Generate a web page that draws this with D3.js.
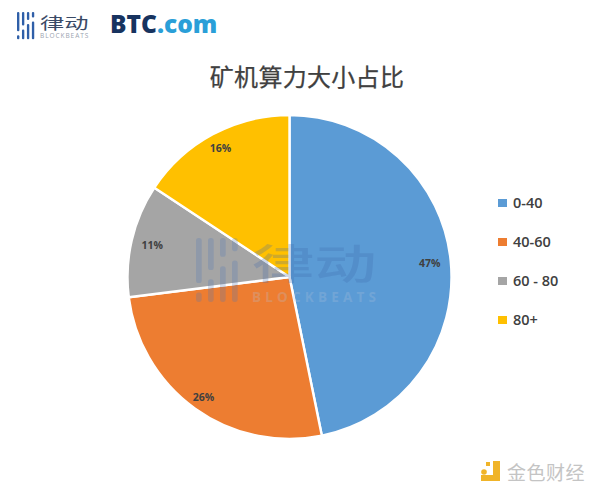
<!DOCTYPE html>
<html><head><meta charset="utf-8">
<script src="https://cdn.jsdelivr.net/npm/d3@7/dist/d3.min.js"></script>
<style>html,body{margin:0;padding:0;background:#fff}svg{display:block}</style>
</head><body><svg id="c" width="590" height="489"></svg>
<script>
const categories=["0-40","40-60","60 - 80","80+"];
const values=[46.8,26.2,11.3,15.7];
const percentLabels=["47%","26%","11%","16%"];
const colors=["#5b9bd5","#ed7d31","#a5a5a5","#ffc000"];
const chartTitle="矿机算力大小占比";

const svg=d3.select("#c");
const cx=289.5,cy=277,R=162;
const sans="'Open Sans','Noto Sans CJK SC',sans-serif";
const cjk="'Noto Sans CJK SC',sans-serif";

function beatsMark(g,sx,sy,color){
  const bars=[[0,0,24],[0,29,5],[8,0,17],[8,22,12],[16,0,10],[16,15,19],[24,0,7],[24,12,22]];
  g.selectAll("rect").data(bars).join("rect")
   .attr("x",d=>d[0]*sx).attr("y",d=>d[1]*sy).attr("width",3.8*sx).attr("height",d=>d[2]*sy)
   .attr("rx",1.7*sx).attr("fill",color);
}

// title
svg.append("text").attr("x",307).attr("y",85.5).attr("text-anchor","middle")
  .attr("font-family",cjk).attr("font-size",24).attr("font-weight",400).attr("fill","#404040")
  .attr("stroke","#404040").attr("stroke-width",.25)
  .attr("letter-spacing",.3).text(chartTitle);

// pie
const pie=d3.pie().value(d=>d).sort(null);
const arc=d3.arc().innerRadius(0).outerRadius(R);
const arcs=pie(values);
const g=svg.append("g").attr("transform",`translate(${cx},${cy})`);
g.selectAll("path").data(arcs).join("path").attr("d",arc)
  .attr("fill",(d,i)=>colors[i]).attr("stroke","#fff").attr("stroke-width",2.4).attr("stroke-linejoin","round");

// percent labels
const labelR=[.87,.91,.87,.9];
g.selectAll("text").data(arcs).join("text")
  .attr("transform",(d,i)=>{const a=(d.startAngle+d.endAngle)/2,r=R*labelR[i];return `translate(${r*Math.sin(a)},${-r*Math.cos(a)})`})
  .attr("text-anchor","middle").attr("dy","0.36em")
  .attr("font-family",sans).attr("font-size",10.5).attr("font-weight",700).attr("fill","#404040")
  .text((d,i)=>percentLabels[i]);

// legend
const ly=d3.scalePoint().domain(categories).range([203,320]);
const leg=svg.append("g").selectAll("g").data(categories).join("g")
  .attr("transform",d=>`translate(498,${ly(d)})`);
leg.append("rect").attr("x",0).attr("y",-4).attr("width",9).attr("height",8)
  .attr("fill",(d,i)=>colors[i]);
leg.append("text").attr("x",15).attr("dy","0.36em").attr("font-family",sans)
  .attr("font-size",14.5).attr("font-weight",600).attr("fill","#404040").text(d=>d);

// watermark
const wm=svg.append("g").attr("opacity",.25);
beatsMark(wm.append("g").attr("transform","translate(196,238)"),1.5,1.88,"#4f78b8");
wm.append("text").attr("transform","translate(252,279) scale(1.52,1)").attr("font-family",cjk)
  .attr("font-size",41).attr("font-weight",500).attr("fill","#3f68ac").text("律动");
wm.append("text").attr("x",252).attr("y",302).attr("font-family",sans).attr("font-size",13.5)
  .attr("font-weight",700).attr("letter-spacing",4.2).attr("fill","#b4c4dc").text("BLOCKBEATS");

// top-left logos
beatsMark(svg.append("g").attr("transform","translate(17,12)"),.62,.8,"#2f5fa8");
svg.append("text").attr("transform","translate(40,29) scale(1.52,1)").attr("font-family",cjk)
  .attr("font-size",16).attr("fill","#3a4a66").text("律动");
svg.append("text").attr("x",40).attr("y",38).attr("font-family",sans).attr("font-size",6.5)
  .attr("letter-spacing",.95).attr("fill","#9aa3b0").text("BLOCKBEATS");
const btc=svg.append("text").attr("x",110).attr("y",33).attr("font-family",sans)
  .attr("font-size",24.5).attr("font-weight",800);
btc.append("tspan").attr("fill","#17335f").text("BTC");
btc.append("tspan").attr("fill","#2a9fd8").text(".com");

// bottom-right logo
const jin=svg.append("g").attr("fill","#f0b429");
jin.append("path").attr("d","M493 461h7v20h-19v-6h12z");
jin.append("circle").attr("cx",484).attr("cy",472).attr("r",2.8);
jin.append("rect").attr("x",486).attr("y",462).attr("width",4).attr("height",4);
svg.append("text").attr("x",507).attr("y",480).attr("font-family",cjk)
  .attr("font-size",19).attr("letter-spacing",.5).attr("fill","#c4c4c4").text("金色财经");
</script></body></html>
